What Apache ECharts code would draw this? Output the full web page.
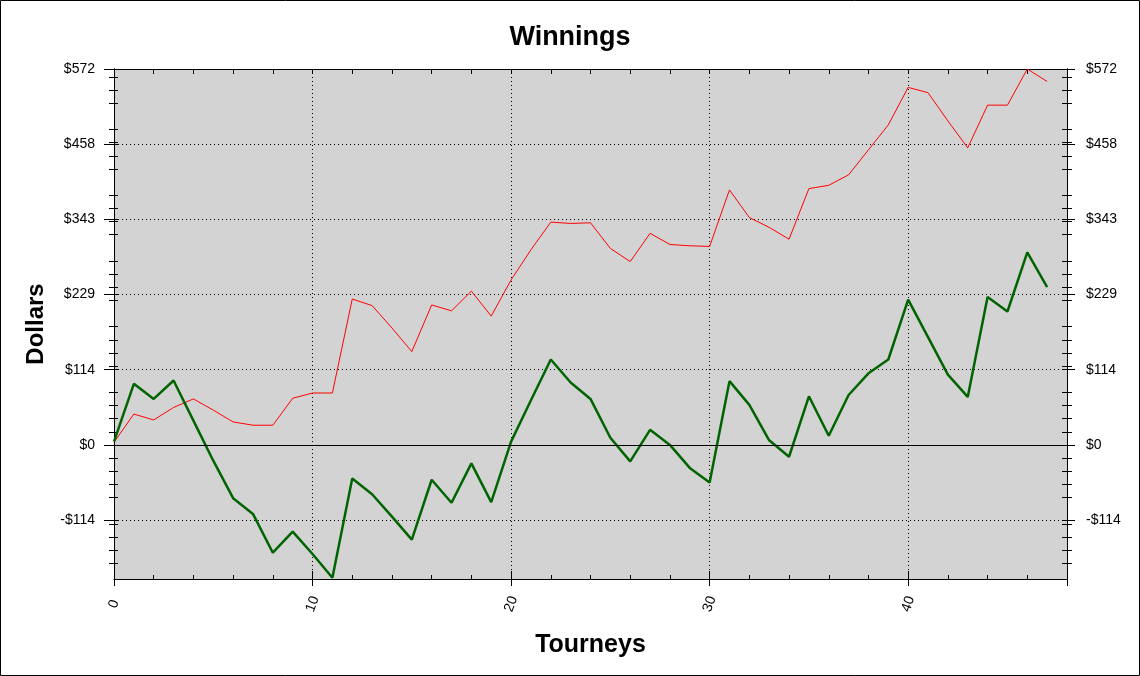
<!DOCTYPE html>
<html>
<head>
<meta charset="utf-8">
<title>Winnings</title>
<script src="https://cdn.jsdelivr.net/npm/echarts@6/dist/echarts.min.js"></script>
<style>
  html, body { margin: 0; padding: 0; background: #fff; }
  #chart { width: 1140px; height: 676px; }
</style>
</head>
<body>
<div id="chart"></div>
<script>
// running totals per tourney
var redLine = [4, 47, 38, 57, 70, 53, 35, 30, 30, 71,
  79, 79, 222, 212, 178, 142, 213, 204, 234, 196,
  251, 297, 339, 337, 338, 299, 279, 322, 305, 303,
  302, 388, 346, 331, 313, 390, 395, 411, 449, 487,
  544, 536, 493, 452, 517, 517, 572, 553];
var greenLine = [5, 93, 70, 98, 37, -24, -81, -105, -164, -132,
  -166, -202, -51, -75, -109, -144, -53, -88, -28, -87,
  5, 68, 130, 95, 70, 11, -25, 23, 0, -35,
  -57, 97, 61, 7, -18, 74, 14, 76, 109, 130,
  221, 164, 107, 73, 225, 203, 293, 240];
var dollarTicks = [-114.4, 0, 114.4, 228.8, 343.2, 457.6, 572];
var yMin = -204, yMax = 572;
var xMax = 48;

var FONT = '"Liberation Sans", Arial, sans-serif';

function money(v) {
  var r = Math.round(Math.abs(v));
  return (v < 0 ? '-$' : '$') + r;
}

function toPoints(arr) {
  return arr.map(function (v, i) { return [i, v]; });
}

// y axes come in pairs (outside + inside) so the ticks cross the axis line
function yAx(pos, inside, labels, majorLen, minorLen) {
  return {
    type: 'value', position: pos, min: yMin, max: yMax, splitNumber: 8,
    name: (pos === 'left' && !inside) ? 'Dollars' : '',
    nameLocation: 'middle', nameGap: 66, nameRotate: 90,
    nameTextStyle: { fontFamily: FONT, fontSize: 24, fontWeight: 'bold', color: '#000' },
    axisLine: { show: true, onZero: false, lineStyle: { color: '#000', width: 1 } },
    axisTick: { show: true, inside: inside, length: majorLen, customValues: dollarTicks,
      lineStyle: { color: '#000', width: 1 } },
    minorTick: { show: true, splitNumber: 5, length: minorLen, lineStyle: { color: '#000', width: 1 } },
    axisLabel: { show: labels, customValues: dollarTicks, margin: 19,
      fontFamily: FONT, fontSize: 14, color: '#000', formatter: money },
    splitLine: { show: pos === 'left' && !inside,
      lineStyle: { color: '#000', type: [1, 3], width: 1 } }
  };
}

var chart = echarts.init(document.getElementById('chart'));
chart.setOption({
  animation: false,
  backgroundColor: '#fff',
  title: {
    text: 'Winnings', left: 'center', top: 24, padding: 0,
    textStyle: { fontFamily: FONT, fontSize: 27, fontWeight: 'bold', color: '#000' }
  },
  grid: {
    left: 114, right: 73, top: 69, bottom: 97,
    show: true, backgroundColor: '#d3d3d3', borderWidth: 0
  },
  graphic: [{
    type: 'rect', shape: { x: 0.5, y: 0.5, width: 1139, height: 675 },
    style: { fill: 'none', stroke: '#000', lineWidth: 1 }, silent: true
  }],
  xAxis: [{
    type: 'value', position: 'bottom', min: 0, max: xMax, interval: 10,
    name: 'Tourneys', nameLocation: 'middle', nameGap: 54,
    nameTextStyle: { fontFamily: FONT, fontSize: 25, fontWeight: 'bold', color: '#000' },
    axisLine: { onZero: false, lineStyle: { color: '#000', width: 1 } },
    axisTick: { inside: true, length: 8, lineStyle: { color: '#000' } },
    minorTick: { show: true, splitNumber: 5, length: 4, lineStyle: { color: '#000' } },
    axisLabel: { rotate: 70, margin: 25, align: 'center', verticalAlign: 'middle',
      showMaxLabel: false, fontFamily: FONT, fontSize: 14, color: '#000' },
    splitLine: { show: true, lineStyle: { color: '#000', type: [1, 3], width: 1 } }
  }, {
    type: 'value', position: 'bottom', min: 0, max: xMax, interval: 10,
    axisLine: { show: false, onZero: false },
    axisTick: { inside: false, length: 7, lineStyle: { color: '#000' } },
    axisLabel: { show: false }, splitLine: { show: false }
  }, {
    type: 'value', position: 'top', min: 0, max: xMax, interval: 10,
    axisLine: { onZero: false, lineStyle: { color: '#000', width: 1 } },
    axisTick: { inside: true, length: 5, lineStyle: { color: '#000' } },
    minorTick: { show: true, splitNumber: 5, length: 5, lineStyle: { color: '#000' } },
    axisLabel: { show: false }, splitLine: { show: false }
  }],
  yAxis: [
    yAx('left', false, true, 10, 5),
    yAx('left', true, false, 4, 4),
    yAx('right', false, true, 8, 5),
    yAx('right', true, false, 5, 5)
  ],
  series: [{
    name: 'red', type: 'line', data: toPoints(redLine),
    showSymbol: false, symbol: 'none',
    lineStyle: { color: '#ff0000', width: 1 }, z: 3
  }, {
    name: 'green', type: 'line', data: toPoints(greenLine),
    showSymbol: false, symbol: 'none',
    lineStyle: { color: '#006400', width: 2.5 }, z: 4,
    markLine: {
      silent: true, symbol: 'none', label: { show: false },
      lineStyle: { color: '#000', type: 'solid', width: 1 },
      data: [{ yAxis: 0 }]
    }
  }]
});
</script>
</body>
</html>
